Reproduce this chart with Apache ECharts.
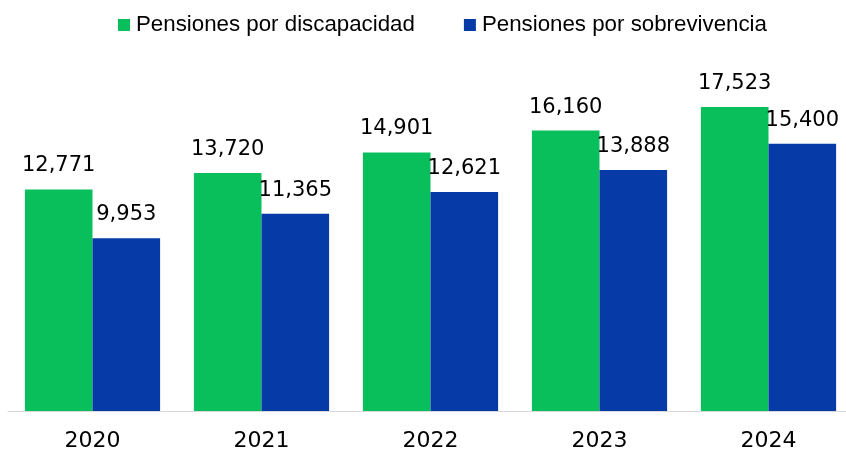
<!DOCTYPE html>
<html>
<head>
<meta charset="utf-8">
<script src="https://cdn.jsdelivr.net/npm/echarts@6/dist/echarts.min.js"></script>
<style>
  html, body { margin: 0; padding: 0; background: #fff; overflow: hidden; }
  /* canvas runs a few pixels past the right edge of the window */
  #chart { width: 853px; height: 452px; }
</style>
</head>
<body>
<div id="chart"></div>
<script>
// Pension counts per year, by type
const years = ['2020', '2021', '2022', '2023', '2024'];
const discapacidad = [12771, 13720, 14901, 16160, 17523];
const sobrevivencia = [9953, 11365, 12621, 13888, 15400];
const seriesNames = ['Pensiones por discapacidad', 'Pensiones por sobrevivencia'];

const chart = echarts.init(document.getElementById('chart'));
const valueLabel = {
  show: true,
  position: 'top',
  distance: 13,
  color: '#000',
  fontFamily: 'DejaVu Sans',
  fontSize: 21,
  formatter: p => p.value.toLocaleString('en-US')
};

chart.setOption({
  animation: false,
  legend: {
    top: 9,
    left: 113,
    itemWidth: 12,
    itemHeight: 12,
    itemGap: 49,
    icon: 'rect',
    textStyle: { fontFamily: 'Liberation Sans', fontSize: 22.3, color: '#000', padding: [0, 0, 0, 1] },
    data: seriesNames
  },
  grid: { left: 8, right: 0, top: 64, bottom: 39, containLabel: false },
  xAxis: {
    type: 'category',
    data: years,
    axisLine: { lineStyle: { color: '#d9d9d9', width: 1 } },
    axisTick: { show: false },
    axisLabel: { color: '#000', fontFamily: 'DejaVu Sans', fontSize: 22, margin: 19 }
  },
  yAxis: {
    type: 'value',
    min: 0,
    max: 20000,
    show: false,
    splitLine: { show: false }
  },
  series: [
    {
      name: seriesNames[0],
      type: 'bar',
      data: discapacidad,
      barWidth: '40%',
      barGap: '0%',
      itemStyle: { color: '#08BF5B' },
      label: valueLabel
    },
    {
      name: seriesNames[1],
      type: 'bar',
      data: sobrevivencia,
      barWidth: '40%',
      itemStyle: { color: '#063BA7' },
      label: valueLabel
    }
  ]
});
</script>
</body>
</html>
